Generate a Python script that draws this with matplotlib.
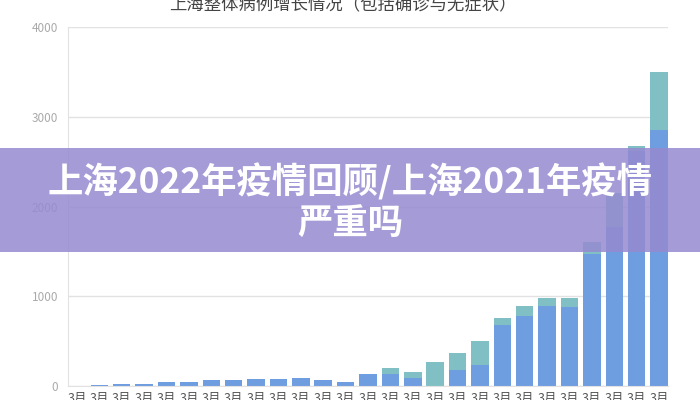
import matplotlib
matplotlib.use("Agg")
import matplotlib.pyplot as plt
from matplotlib.patches import Rectangle

plt.rcParams['font.family'] = ['Noto Sans CJK SC', 'DejaVu Sans']

dates = [f"3月\n{d}日" for d in range(1, 28)]
blue = [3, 10, 20, 25, 40, 50, 62, 70, 78, 78, 85, 68, 40,
        130, 134, 85, 0, 180, 235, 675, 775, 890, 880, 1470, 1770, 2620, 2850]
teal = [0, 0, 0, 0, 0, 0, 0, 0, 0, 0, 0, 0, 0,
        9, 70, 75, 265, 190, 270, 85, 118, 95, 105, 135, 380, 56, 650]
yticks = [0, 1000, 2000, 3000, 4000]
title = "上海整体病例增长情况（包括确诊与无症状）"
banner = "上海2022年疫情回顾/上海2021年疫情\n严重吗"

fig = plt.figure(figsize=(7, 4), dpi=100)
ax = fig.add_axes([68/700, 14/400, 600/700, 359/400])

x = list(range(len(dates)))
ax.bar(x, blue, width=0.78, color='#6e9de0', zorder=2)
ax.bar(x, teal, width=0.78, bottom=blue, color='#80c0c4', zorder=2)

ax.set_xlim(-0.4, len(dates) - 0.6)
ax.set_ylim(0, 4000)
ax.set_yticks(yticks)
ax.set_yticklabels([str(v) for v in yticks], color='#aaaaaa', fontsize=8.5)
ax.set_xticks(x)
ax.set_xticklabels(dates, fontsize=9, color='#555555', linespacing=1.1)
ax.tick_params(axis='both', length=0)
ax.tick_params(axis='x', pad=4)
ax.tick_params(axis='y', pad=7)
ax.grid(axis='y', color='#e2e2e2', linewidth=1, zorder=0)
for s in ['top', 'right']:
    ax.spines[s].set_visible(False)
ax.spines['left'].set_color('#e2e2e2')
ax.spines['bottom'].set_color('#e2e2e2')

fig.text(0.49, 1 - 4/400, title, ha='center', va='center', fontsize=12.5, color='#444444')

fig.add_artist(Rectangle((0, 1 - 252/400), 1, 104/400, transform=fig.transFigure,
                         facecolor='#968ad0', alpha=0.85, edgecolor='none', zorder=5))
fig.text(0.5, 1 - 202/400, banner, ha='center', va='center', fontsize=25.5,
         fontweight='bold', color='white', linespacing=1.22, zorder=6)

fig.savefig('out.png', dpi=100)
